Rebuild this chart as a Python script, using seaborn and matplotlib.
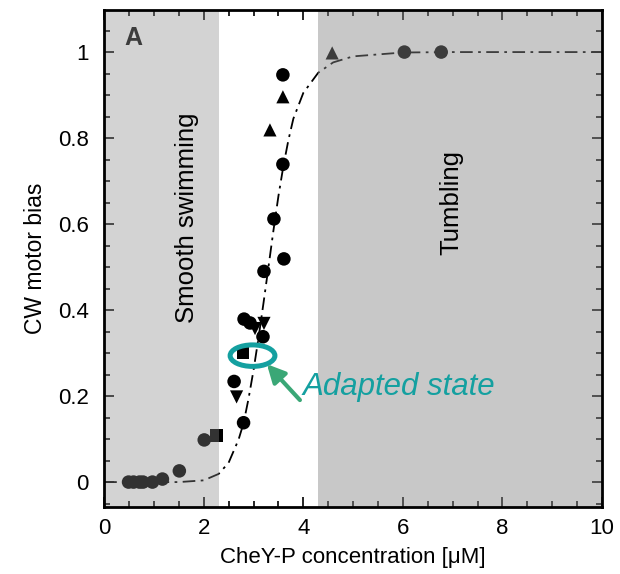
import numpy as np
import pandas as pd
import matplotlib
matplotlib.use("Agg")
import matplotlib.pyplot as plt
import seaborn as sns
from matplotlib.patches import Ellipse
from matplotlib.ticker import MultipleLocator

# measured points (CheY-P concentration, CW bias), one list per marker
circle_x = [0.49, 0.59, 0.71, 0.78, 0.97, 1.17, 1.51, 2.01, 2.80, 2.61, 2.81, 2.93, 3.19,
            3.21, 3.41, 3.61, 3.59, 3.59, 6.03, 6.77]
circle_y = [0.0, 0.0, 0.0, 0.0, 0.0, 0.007, 0.026, 0.098, 0.138, 0.234, 0.379, 0.370, 0.338,
            0.490, 0.612, 0.519, 0.739, 0.947, 1.0, 1.0]
square_x = [2.25, 2.79]
square_y = [0.109, 0.300]
tri_up_x = [3.33, 3.59, 4.58]
tri_up_y = [0.819, 0.896, 0.998]
tri_down_x = [2.66, 3.03, 3.21]
tri_down_y = [0.198, 0.357, 0.369]

# fitted curve
curve_x = [0.0, 1.0, 1.5, 2.0, 2.3, 2.5, 2.7, 2.8, 2.9, 3.0, 3.1, 3.2, 3.3, 3.4, 3.5,
           3.6, 3.7, 3.8, 4.0, 4.3, 4.6, 5.0, 6.0, 7.0, 10.0]
curve_y = [0.0, 0.0, 0.0, 0.004, 0.019, 0.045, 0.099, 0.137, 0.194, 0.26, 0.335, 0.416,
           0.5, 0.585, 0.665, 0.735, 0.795, 0.845, 0.905, 0.952, 0.976, 0.99, 0.999, 1.0, 1.0]

smooth_region = (0, 2.3)
tumble_region = (4.3, 10)

sns.set_theme(style="ticks")
plt.rcParams['font.family'] = ['Liberation Sans', 'DejaVu Sans']
plt.rcParams.update({'text.color': 'black', 'axes.labelcolor': 'black',
                     'xtick.color': 'black', 'ytick.color': 'black',
                     'axes.edgecolor': 'black'})

fig = plt.figure(figsize=(6.2, 5.74), dpi=100)
ax = fig.add_axes([0.168, 0.1167, 0.803, 0.866])

sns.lineplot(x=curve_x, y=curve_y, ax=ax, color='black', lw=1.3,
             linestyle=(0, (7, 3, 1.5, 3)), zorder=1)

pts = pd.concat([
    pd.DataFrame({'x': circle_x, 'y': circle_y, 'kind': 'circle'}),
    pd.DataFrame({'x': square_x, 'y': square_y, 'kind': 'square'}),
    pd.DataFrame({'x': tri_up_x, 'y': tri_up_y, 'kind': 'up'}),
    pd.DataFrame({'x': tri_down_x, 'y': tri_down_y, 'kind': 'down'}),
])
sizes = {'circle': 95, 'square': 85, 'up': 90, 'down': 90}
for kind, marker in [('circle', 'o'), ('square', 's'), ('up', '^'), ('down', 'v')]:
    sub = pts[pts['kind'] == kind]
    sns.scatterplot(data=sub, x='x', y='y', ax=ax, marker=marker, color='black',
                    s=sizes[kind], edgecolor='none', zorder=2)

ax.text(0.58, 1.033, 'A', fontsize=18, fontweight='bold', color='#111111',
        ha='center', va='center', zorder=2)

# translucent gray overlays for the two behavioural regimes
ax.axvspan(*smooth_region, color='#888888', alpha=0.37, lw=0, zorder=3)
ax.axvspan(*tumble_region, color='#868686', alpha=0.45, lw=0, zorder=3)

ax.text(1.66, 0.615, 'Smooth swimming', rotation=90, fontsize=18.5, ha='center', va='center', zorder=5)
ax.text(6.97, 0.65, 'Tumbling', rotation=90, fontsize=18.5, ha='center', va='center', zorder=5)

teal = '#14a0a0'
ax.add_patch(Ellipse((2.98, 0.294), 0.9, 0.05, fill=False, edgecolor=teal, lw=3.6, zorder=6))
ax.annotate('', xy=(3.23, 0.279), xytext=(3.97, 0.186),
            arrowprops=dict(arrowstyle='-|>,head_length=0.9,head_width=0.45', color='#3aa776', lw=3),
            zorder=6)
ax.text(3.99, 0.22, 'Adapted state', fontsize=22.5, style='italic', color=teal,
        ha='left', va='center', zorder=6)

ax.set_xlim(0, 10)
ax.set_ylim(-0.058, 1.098)
ax.set_xticks([0, 2, 4, 6, 8, 10])
ax.set_yticks([0, 0.2, 0.4, 0.6, 0.8, 1.0])
ax.set_yticklabels(['0', '0.2', '0.4', '0.6', '0.8', '1'])
ax.xaxis.set_minor_locator(MultipleLocator(0.5))
ax.yaxis.set_minor_locator(MultipleLocator(0.05))
ax.tick_params(which='both', direction='in', top=True, right=True, labelsize=16, width=1.2)
ax.tick_params(which='major', length=7)
ax.tick_params(which='minor', length=4)
ax.tick_params(axis='x', pad=8)
ax.tick_params(axis='y', pad=11)
for s in ax.spines.values():
    s.set_linewidth(2)
    s.set_zorder(7)

ax.set_xlabel('CheY-P concentration [μM]', fontsize=16, labelpad=6)
ax.set_ylabel('CW motor bias', fontsize=16.5, labelpad=8)

fig.savefig('out.png', dpi=100)
